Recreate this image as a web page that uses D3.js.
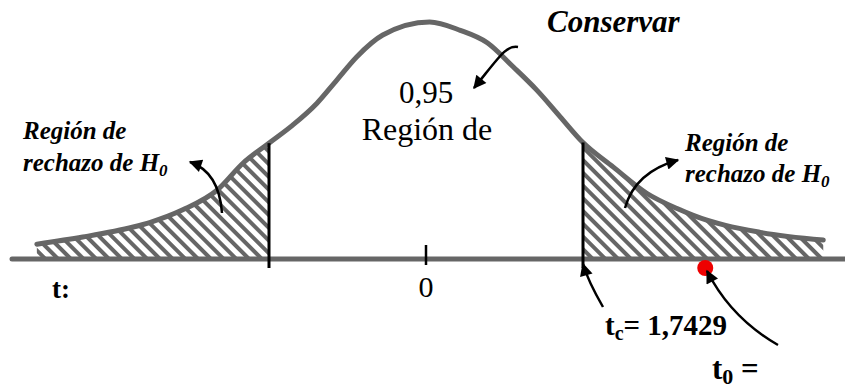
<!DOCTYPE html>
<html>
<head>
<meta charset="utf-8">
<script src="https://cdn.jsdelivr.net/npm/d3@7"></script>
<style>
	body { margin: 0; background: #fff; }
</style>
</head>
<body>
<svg id="chart"></svg>
<script>
'use strict'

// curve (t value, height)
var curveT = [-4.32, -3.81, -3.25, -3.06, -2.70, -2.32, -2.03, -1.73, -1.48, -1.21, -0.99, -0.77, -0.48, 0.04,
	0.38, 0.68, 0.97, 1.23, 1.49, 1.74, 2.08, 2.45, 2.82, 2.96, 3.71, 4.41];
var curveDensity = [0.025, 0.037, 0.054, 0.062, 0.083, 0.116, 0.162, 0.197, 0.226, 0.263, 0.302, 0.341, 0.378, 0.400,
	0.386, 0.365, 0.324, 0.285, 0.240, 0.197, 0.155, 0.111, 0.083, 0.074, 0.045, 0.032];

var tCrit = 1.7429;
var tObs = 3.1;
var tickValues = [0];
var tickLabels = ["0"];

var WIDTH = 845,
	HEIGHT = 390;

var FONT = "Liberation Serif";

var svg = d3.select("#chart")
	.attr("width", WIDTH)
	.attr("height", HEIGHT);

var x = d3.scaleLinear().domain([-tCrit, tCrit]).range([269, 583]);
var y = d3.scaleLinear().domain([0, 0.4]).range([259, 22]);

var curveColor = "#666666";

var points = curveT.map(function (t, i) {
	return [t, curveDensity[i]];
});

function heightAt(t) {
	for (var i = 1; i < curveT.length; i++) {
		if (t <= curveT[i]) {
			var f = (t - curveT[i - 1]) / (curveT[i] - curveT[i - 1]);
			return curveDensity[i - 1] + f * (curveDensity[i] - curveDensity[i - 1]);
		}
	}
	return curveDensity[curveDensity.length - 1];
}

var defs = svg.append("defs");

var pat = defs.append("pattern")
	.attr("id", "hatch")
	.attr("patternUnits", "userSpaceOnUse")
	.attr("width", 9)
	.attr("height", 9)
	.attr("patternTransform", "rotate(-45)");
pat.append("line")
	.attr("x1", 2).attr("y1", 0)
	.attr("x2", 2).attr("y2", 9)
	.style("stroke", curveColor)
	.style("stroke-width", 4);

var clip = defs.append("clipPath").attr("id", "tails");
clip.append("rect")
	.attr("x", 0).attr("y", 0)
	.attr("width", x(-tCrit)).attr("height", HEIGHT);
clip.append("rect")
	.attr("x", x(tCrit)).attr("y", 0)
	.attr("width", WIDTH - x(tCrit)).attr("height", HEIGHT);

defs.append("marker")
	.attr("id", "head")
	.attr("viewBox", "0 0 10 10")
	.attr("refX", 9)
	.attr("refY", 5)
	.attr("markerUnits", "userSpaceOnUse")
	.attr("markerWidth", 15)
	.attr("markerHeight", 13)
	.attr("orient", "auto")
	.append("path")
	.attr("d", "M0,0 L10,5 L0,10 z")
	.style("fill", "#000");

var line = d3.line()
	.x(function (d) { return x(d[0]); })
	.y(function (d) { return y(d[1]); })
	.curve(d3.curveMonotoneX);

var area = d3.area()
	.x(function (d) { return x(d[0]); })
	.y0(y(0))
	.y1(function (d) { return y(d[1]); })
	.curve(d3.curveMonotoneX);

// rejection tails
svg.append("path")
	.datum(points)
	.attr("d", area)
	.attr("clip-path", "url(#tails)")
	.style("fill", "url(#hatch)");

// t axis
svg.append("line")
	.attr("x1", 12).attr("x2", WIDTH)
	.attr("y1", y(0)).attr("y2", y(0))
	.style("stroke", curveColor)
	.style("stroke-width", 5)
	.style("stroke-linecap", "round");

svg.append("path")
	.datum(points)
	.attr("d", line)
	.style("fill", "none")
	.style("stroke", curveColor)
	.style("stroke-width", 5)
	.style("stroke-linecap", "round");

// critical values
[-tCrit, tCrit].forEach(function (t) {
	svg.append("line")
		.attr("x1", x(t)).attr("x2", x(t))
		.attr("y1", y(heightAt(t)))
		.attr("y2", y(0) + 9)
		.style("stroke", "#000")
		.style("stroke-width", 3);
});

svg.selectAll(".tick")
	.data(tickValues)
	.enter()
	.append("line")
	.attr("x1", function (d) { return x(d); })
	.attr("x2", function (d) { return x(d); })
	.attr("y1", y(0) - 14)
	.attr("y2", y(0) + 6)
	.style("stroke", "#000")
	.style("stroke-width", 2.5);

svg.selectAll(".ticklabel")
	.data(tickValues)
	.enter()
	.append("text")
	.attr("x", function (d) { return x(d); })
	.attr("y", 297)
	.attr("text-anchor", "middle")
	.attr("font-family", FONT)
	.attr("font-size", 30)
	.text(function (d, i) { return tickLabels[i]; });

svg.append("circle")
	.attr("cx", x(tObs))
	.attr("cy", y(0) + 9)
	.attr("r", 8)
	.style("fill", "#ee0000");

// labels
function addText(tx, ty, size, bold, italic, str) {
	return svg.append("text")
		.attr("x", tx)
		.attr("y", ty)
		.attr("font-family", FONT)
		.attr("font-size", size)
		.attr("font-weight", bold ? "bold" : "normal")
		.attr("font-style", italic ? "italic" : "normal")
		.text(str);
}

function addSub(el, main, sub, rest, subSize) {
	el.text(null);
	el.append("tspan").text(main);
	el.append("tspan").attr("dy", 5).attr("font-size", subSize).text(sub);
	if (rest) el.append("tspan").attr("dy", -5).text(rest);
}

addText(547, 32, 31, true, true, "Conservar");
addText(426, 103, 31, false, false, "0,95").attr("text-anchor", "middle");
addText(427, 140, 32, false, false, "Región de").attr("text-anchor", "middle");

addText(23, 139, 25, true, true, "Región de");
addSub(addText(23, 171, 25, true, true, ""), "rechazo de H", "0", null, 17);

addText(685, 151, 25, true, true, "Región de");
addSub(addText(685, 182, 25, true, true, ""), "rechazo de H", "0", null, 17);

addText(52, 298, 27, true, false, "t:");
addSub(addText(605, 335, 29, true, false, ""), "t", "c", "= 1,7429", 20);
addSub(addText(712, 379, 31, true, false, ""), "t", "0", " =", 22);

// arrows
var arrows = [
	"M222,213 Q219,172 190,162",
	"M518,47 C506,45 500,56 474,88",
	"M625,208 Q635,172 678,160",
	"M603,307 Q588,281 583,264",
	"M778,345 Q731,318 707,271"
];

svg.selectAll(".arrow")
	.data(arrows)
	.enter()
	.append("path")
	.attr("d", function (d) { return d; })
	.style("fill", "none")
	.style("stroke", "#000")
	.style("stroke-width", 2.5)
	.attr("marker-end", "url(#head)");
</script>
</body>
</html>
